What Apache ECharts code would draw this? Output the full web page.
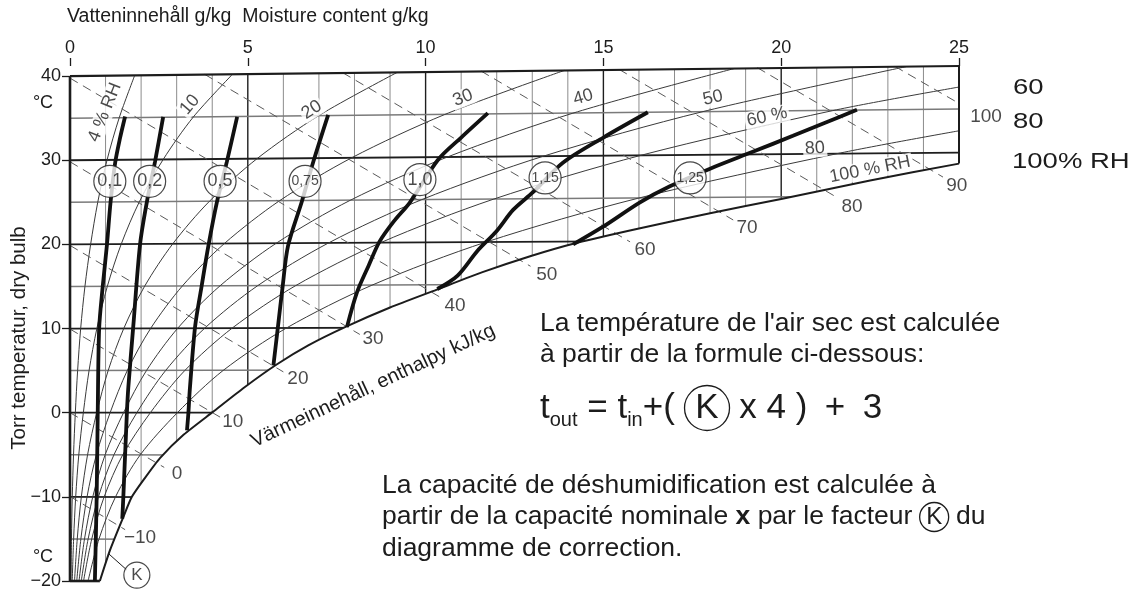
<!DOCTYPE html>
<html>
<head>
<meta charset="utf-8">
<script src="https://cdn.jsdelivr.net/npm/echarts/dist/echarts.min.js"></script>
<style>
html, body { margin: 0; padding: 0; background: #fff; }
#chart { width: 1133px; height: 590px; }
</style>
</head>
<body>
<div id="chart"></div>
<script>
var FONT = '"Liberation Sans", Arial, sans-serif';
var INK = '#1c1c1c';

// axes
var moistureTicks = [0, 5, 10, 15, 20, 25];          // g/kg
var moistureGrid = [1, 2, 3, 4, 5, 6, 7, 8, 9, 10, 11, 12, 13, 14, 15, 16, 17, 18, 19, 20, 21, 22, 23, 24];
var temperatureTicks = [-20, -10, 0, 10, 20, 30, 40]; // °C

// 100 % RH curve  [g/kg, °C]
var saturation = [[0.84,-20],[1.12,-16.4],[1.49,-12.5],[1.74,-10],[2.1,-7.8],[2.53,-5.4],[3.2,-2.6],
  [4.02,0.1],[4.9,3.0],[5.8,5.7],[6.7,8.0],[7.75,10.2],[9,12.5],[10.3,14.6],[11.6,16.7],[12.94,18.6],
  [14.26,20.2],[16,21.9],[18,23.7],[20,25.4],[22.5,27.6],[25,29.6]];
var topBorder = [[0,40],[25,41.2]];

// isotherms, value at 0 g/kg and at 25 g/kg (lines lean slightly upwards)
var isotherms     = [-15, -10, -5, 0, 5, 10, 15, 20, 25, 30, 35];
var isothermAt25  = [-15.4, -10.3, -5.2, 0, 5.2, 10.3, 15.5, 20.6, 25.8, 30.9, 36.1];

// relative humidity curves
var rhCurves = [
  [[0.025,-20],[0.041,-15],[0.064,-10],[0.099,-5],[0.15,0],[0.214,5],[0.30,10],[0.42,15],[0.58,20],[0.78,25],[1.04,30],[1.385,35.06],[1.82,40.09]],
  [[0.063,-20],[0.102,-15],[0.16,-10],[0.247,-5],[0.375,0],[0.536,5],[0.755,10],[1.05,15.02],[1.44,20.03],[1.95,25.06],[2.62,30.09],[3.47,35.15],[4.57,40.22]],
  [[0.127,-20],[0.204,-15],[0.319,-10],[0.494,-5],[0.751,0],[1.073,5],[1.513,10.02],[2.10,15.04],[2.89,20.07],[3.92,25.12],[5.26,30.19],[6.99,35.29],[9.2,40.44]],
  [[0.19,-20],[0.306,-15],[0.479,-10],[0.741,-5],[1.128,0],[1.611,5.01],[2.27,10.03],[3.16,15.06],[4.34,20.1],[5.89,25.18],[7.92,30.29],[10.54,35.44],[13.9,40.67]],
  [[0.254,-20],[0.408,-15],[0.64,-10],[0.988,-5],[1.506,0],[2.15,5.01],[3.03,10.04],[4.22,15.08],[5.80,20.14],[7.88,25.24],[10.61,30.38],[14.14,35.59],[18.68,40.9]],
  [[0.317,-20],[0.51,-15],[0.8,-10],[1.236,-5],[1.88,0],[2.69,5.02],[3.79,10.05],[5.28,15.1],[7.27,20.17],[9.88,25.3],[13.31,30.48],[17.77,35.75],[23.52,41.13]],
  [[0.381,-20],[0.612,-15],[0.96,-10],[1.483,-5],[2.26,0],[3.23,5.02],[4.56,10.05],[6.35,15.11],[8.74,20.21],[11.9,25.36],[16.05,30.58],[21.45,35.9],[25,38.7]],
  [[0.508,-20],[0.816,-15],[1.28,-10],[1.977,-5],[3.02,0],[4.31,5.03],[6.09,10.07],[8.49,15.15],[11.7,20.28],[15.97,25.48],[21.57,30.78],[25,33.5]]
];
var rhLabelText  = ['4 % RH', '10', '20', '30', '40', '50', '60 %', '80', '100 % RH'];
var rhLabelAt    = [[0.98,35.7],[3.37,36.6],[6.8,36.0],[11.05,37.4],[14.43,37.5],[18.08,37.4],[19.6,35.15],[20.95,31.4],[22.5,28.9]];
var rhLabelAngle = [68, 50, 33, 22, 16, 13, 12, 4, 11];

// enthalpy kJ/kg (dashed)
var enthalpyNames = ['\u221210', '0', '10', '20', '30', '40', '50', '60', '70', '80', '90', '100'];
var enthalpyLines = [
  [[0,-9.94],[1.55,-13.9]], [[0,0],[2.65,-6.5]], [[0,9.94],[4.25,-0.6]], [[0,19.88],[6.0,4.85]],
  [[0,29.82],[8.15,9.3]], [[0,39.76],[10.5,13.5]], [[3.79,40.2],[12.95,17.4]], [[7.67,40.4],[15.75,20.3]],
  [[11.56,40.6],[18.65,22.9]], [[15.44,40.8],[21.6,25.5]], [[19.33,41.0],[24.55,28.0]], [[23.2,41.15],[25.35,35.9]]
];
var enthalpyLabelAt = [[1.97,-14.9],[3.01,-7.2],[4.58,-1.07],[6.41,4.02],[8.52,8.76],[10.83,12.66],
  [13.41,16.45],[16.17,19.41],[19.04,22.01],[21.99,24.5],[24.94,26.98],[25.76,35.15]];

// correction factor K
var kNames = ['0,1', '0,2', '0,5', '0,75', '1,0', '1,15', '1,25'];
var kLines = [
  [[0.70,-20],[0.75,-10],[0.78,0],[0.82,10],[0.92,15],[1.04,20],[1.14,25],[1.27,29.7],[1.4,32.5],[1.55,35.2]],
  [[1.47,-12.6],[1.5,-10],[1.6,0],[1.64,3],[1.78,10.3],[1.97,20],[2.16,25],[2.39,29.8],[2.62,35.15]],
  [[3.29,-2.1],[3.33,0],[3.37,2.8],[3.52,10.3],[3.7,15],[3.89,19.8],[4.13,25],[4.41,29.8],[4.7,35.15]],
  [[5.72,5.6],[5.85,10.3],[5.98,15],[6.13,19.8],[6.52,25.1],[6.84,29.8],[7.26,35.4]],
  [[7.79,10.2],[8.07,14.3],[8.4,17.5],[8.7,20.3],[9.1,22.7],[9.56,25],[10.35,30.06],[11.0,32.7],[11.75,35.6]],
  [[10.33,14.7],[10.9,16.3],[11.45,19.2],[12.0,21.6],[12.46,24.1],[13.02,26.2],[13.86,29.7],[15.0,32.7],[16.25,35.7]],
  [[14.15,20.0],[14.99,22.1],[16.03,25.0],[16.87,26.9],[18.0,29.0],[19.2,31.0],[20.33,32.9],[21.2,34.4],[22.13,36.0]]
];
var kCircles = [[1.12,27.5],[2.24,27.5],[4.22,27.5],[6.61,27.5],[9.84,27.7],[13.36,27.9],[17.44,27.9]];
var kPointer = [[1.07,-16.7],[1.6,-18.7]];
var kKey = [1.88,-19.3];

function line(data, color, width, z, extra) {
  var s = {
    type: 'line', data: data, symbol: 'none', silent: true, z: z,
    lineStyle: { color: color, width: width }
  };
  for (var k in extra) s[k] = extra[k];
  return s;
}

var series = [];

// moisture grid lines (under the white masks)
moistureGrid.forEach(function (g) {
  var major = g % 5 === 0;
  series.push(line([[g, -20], [g, 41.2]], major ? '#1e1e1e' : '#8c8c8c', major ? 1.4 : 1, 1));
});

// isotherms (under the white masks)
for (var i = 0; i < isotherms.length; i++) {
  var major = isotherms[i] % 10 === 0;
  series.push(line([[0, isotherms[i]], [25, isothermAt25[i]]],
    major ? '#1e1e1e' : '#7a7a7a', major ? 1.8 : 1.5, 1));
}

// white masks outside the diagram (the lower one reaches a little past the right border)
series.push(line(saturation.concat([[25.3, 29.8]]), '#fff', 0, 3,
  { clip: false, areaStyle: { color: '#fff', opacity: 1, origin: 'start' } }));
series.push(line(topBorder, '#fff', 0, 3,
  { areaStyle: { color: '#fff', opacity: 1, origin: 'end' } }));

// RH curves
rhCurves.forEach(function (c) {
  series.push(line(c, '#3a3a3a', 1, 4, { smooth: 0.3 }));
});

// enthalpy lines
enthalpyLines.forEach(function (c) {
  series.push(line(c, '#5a5a5a', 1, 4, { clip: false, lineStyle: { color: '#5a5a5a', width: 1, type: [9, 6] } }));
});

// borders + saturation
series.push(line(saturation, INK, 2, 5, { smooth: 0.2, clip: false }));
series.push(line(topBorder, INK, 2.2, 5, { clip: false }));
series.push(line([[0,-20],[0,40]], INK, 2.6, 5, { clip: false }));
series.push(line([[0,-20],[saturation[0][0],-20]], INK, 2.6, 5, { clip: false }));
series.push(line([[25, saturation[saturation.length-1][1]],[25, topBorder[1][1]]], INK, 2, 5, { clip: false }));
series.push(line(kPointer, INK, 1, 5, { clip: false }));

// RH labels
series.push({
  type: 'scatter', z: 6, silent: true, clip: false, symbolSize: 1,
  itemStyle: { color: 'rgba(0,0,0,0)' },
  data: rhLabelText.map(function (t, i) {
    return { name: t, value: rhLabelAt[i], label: { rotate: rhLabelAngle[i] } };
  }),
  label: { show: true, position: 'inside', formatter: '{b}', fontSize: 18, fontFamily: FONT,
    color: INK, backgroundColor: '#fff', padding: [0, 2] }
});

// K lines
kLines.forEach(function (c) {
  series.push(line(c, '#111', 3.8, 7, { smooth: 0.3, clip: false }));
});

// K circles
series.push({
  type: 'scatter', z: 8, silent: true, clip: false, symbol: 'circle', symbolSize: 32,
  itemStyle: { color: '#fff', borderColor: INK, borderWidth: 1.2 },
  data: kNames.map(function (n, i) {
    return { name: n, value: kCircles[i], label: { fontSize: n.length > 3 ? 14 : 18 } };
  }).concat([{ name: 'K', value: kKey, symbolSize: 26, label: { fontSize: 17 } }]),
  label: { show: true, position: 'inside', formatter: '{b}', color: INK, fontFamily: FONT }
});

// enthalpy labels
series.push({
  type: 'scatter', z: 8, silent: true, clip: false, symbolSize: 1,
  itemStyle: { color: 'rgba(0,0,0,0)' },
  data: enthalpyNames.map(function (n, i) { return { name: n, value: enthalpyLabelAt[i] }; }),
  label: { show: true, position: 'inside', formatter: '{b}', fontSize: 19, fontFamily: FONT, color: INK }
});

function txt(x, y, text, size, extra) {
  var s = { text: text, fontSize: size, fontFamily: FONT, fill: INK, align: 'left', verticalAlign: 'middle' };
  var e = { type: 'text', x: x, y: y, silent: true, z: 100, style: s };
  for (var k in extra) {
    if (k === 'style') { for (var j in extra.style) s[j] = extra.style[j]; }
    else e[k] = extra[k];
  }
  return e;
}

// circled K as a rich-text token: d = circle diameter, fs = font size
var circleK = function (d, fs) {
  return { fontSize: fs, fontFamily: FONT, fill: INK, width: d, height: d, lineHeight: d, align: 'center',
    verticalAlign: 'middle', borderColor: INK, borderWidth: 1.3, borderRadius: d / 2 };
};

var BODY = 26.5;
var graphics = [
  txt(67, 17, 'Vatteninnehåll g/kg  Moisture content g/kg', 19.5),
  txt(43, 103, '°C', 18, { style: { align: 'center' } }),
  txt(43, 557, '°C', 18, { style: { align: 'center' } }),
  txt(19.5, 338, 'Torr temperatur, dry bulb', 20.5, { rotation: Math.PI / 2, style: { align: 'center' } }),
  txt(373, 386, 'Värmeinnehåll, enthalpy kJ/kg', 20, { rotation: 25 * Math.PI / 180, style: { align: 'center' } }),
  txt(1013, 88, '60', 22, { scaleX: 1.25 }),
  txt(1013, 122, '80', 22, { scaleX: 1.25 }),
  txt(1012, 162, '100% RH', 22, { scaleX: 1.25 }),
  txt(540, 324, "La température de l'air sec est calculée", BODY),
  txt(540, 355, 'à partir de la formule ci-dessous:', BODY),
  txt(540, 408, '{t|t}{s|out}{t| = t}{s|in}{t|+( }{k|K}{t| x 4 )\u2002+\u20023}', 35, { style: { rich: {
    t: { fontSize: 35, fontFamily: FONT, fill: INK, verticalAlign: 'middle' },
    s: { fontSize: 20, fontFamily: FONT, fill: INK, verticalAlign: 'bottom', lineHeight: 20 },
    k: circleK(45, 35)
  } } }),
  txt(382, 486, 'La capacité de déshumidification est calculée à', BODY),
  txt(382, 517, 'partir de la capacité nominale {b|x} par le facteur {k|K} du', BODY, { style: { rich: {
    b: { fontSize: BODY, fontFamily: FONT, fill: INK, fontWeight: 'bold' },
    k: circleK(29, 24)
  } } }),
  txt(382, 549, 'diagramme de correction.', BODY)
];

var chart = echarts.init(document.getElementById('chart'));
chart.setOption({
  animation: false,
  backgroundColor: '#fff',
  grid: { left: 70, right: 174, top: 66, bottom: 7 },
  xAxis: {
    type: 'value', position: 'top', min: 0, max: 25, interval: 5,
    axisLine: { show: false, onZero: false },
    axisTick: { show: true, length: 8, lineStyle: { color: INK, width: 1.3 } },
    axisLabel: { fontSize: 18, fontFamily: FONT, color: INK, margin: 9 },
    splitLine: { show: false }
  },
  yAxis: {
    type: 'value', min: -20, max: 41.2, interval: 10,
    axisLine: { show: false, onZero: false },
    splitLine: { show: false },
    axisTick: { show: true, length: 8, customValues: temperatureTicks, lineStyle: { color: INK, width: 1.3 } },
    axisLabel: {
      customValues: temperatureTicks, fontSize: 18, fontFamily: FONT, color: INK, margin: 9,
      formatter: function (v) {
        if (temperatureTicks.indexOf(v) < 0) return '';
        return v < 0 ? '\u2212' + (-v) : String(v);
      }
    }
  },
  series: series,
  graphic: graphics
});
</script>
</body>
</html>
